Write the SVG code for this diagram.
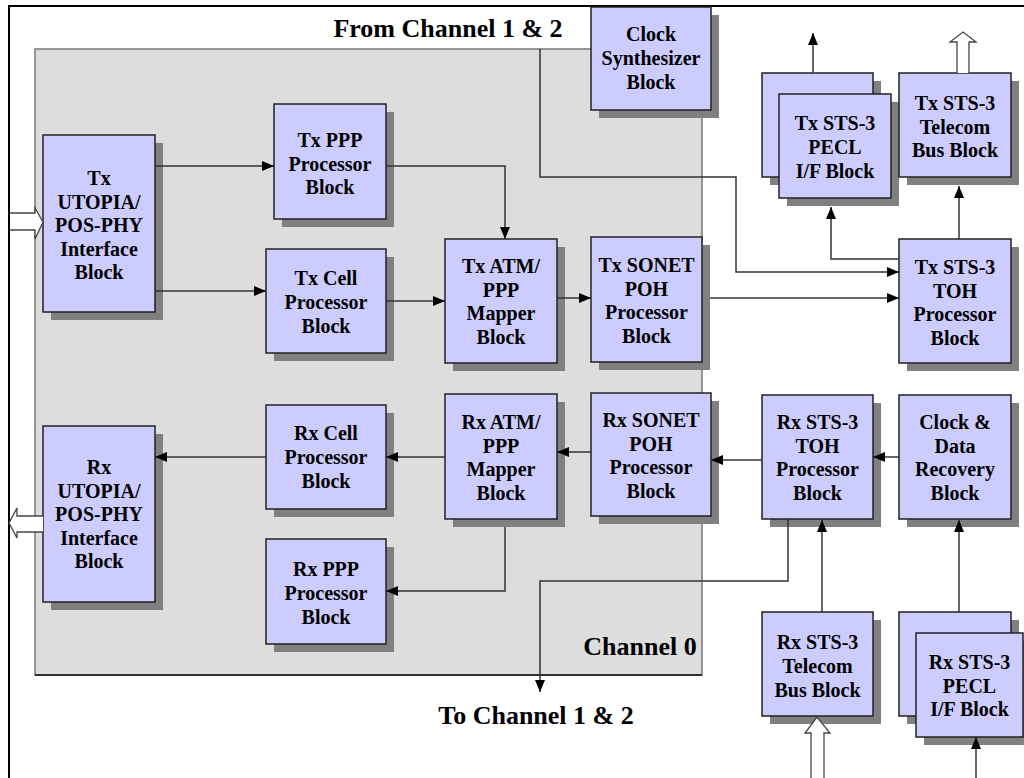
<svg xmlns="http://www.w3.org/2000/svg" width="1024" height="778" viewBox="0 0 1024 778">
<style>
.sh{fill:#808080}
.bx{fill:#ccccff;stroke:#222;stroke-width:1.5}
.t{font-family:"Liberation Serif","Times New Roman",serif;font-weight:bold;font-size:20px;text-anchor:middle;fill:#000}
.lb{font-family:"Liberation Serif","Times New Roman",serif;font-weight:bold;font-size:26px;text-anchor:middle;fill:#000}
.c{fill:none;stroke:#333;stroke-width:1.5}
.ha{fill:#fff;stroke:#444;stroke-width:1.3}
</style>
<defs>
<marker id="ah" viewBox="0 0 12 10" refX="12" refY="5" markerWidth="12" markerHeight="10" markerUnits="userSpaceOnUse" orient="auto"><path d="M0,0 L12,5 L0,10 z" fill="#000"/></marker>
</defs>
<rect x="0" y="0" width="1024" height="778" fill="#fff"/>
<rect x="9" y="6" width="1040" height="800" fill="none" stroke="#000" stroke-width="2"/>
<g id="channel0">
<rect x="35" y="49" width="667" height="626" fill="#dddddd" stroke="#777" stroke-width="1.5"/>
<line x1="35" y1="675" x2="702" y2="675" stroke="#111" stroke-width="1.5"/>
</g>
<g id="labels">
<text class="lb" x="448" y="37">From Channel 1 &amp; 2</text>
<text class="lb" x="640" y="655">Channel 0</text>
<text class="lb" x="536" y="724">To Channel 1 &amp; 2</text>
</g>
<g id="tx_utopia"><rect class="sh" x="51" y="143" width="112" height="177"/><rect class="bx" x="43" y="135" width="112" height="177"/>
<text class="t" x="99" y="185">Tx<tspan x="99" dy="23.5">UTOPIA/</tspan><tspan x="99" dy="23.5">POS-PHY</tspan><tspan x="99" dy="23.5">Interface</tspan><tspan x="99" dy="23.5">Block</tspan></text></g>
<g id="rx_utopia"><rect class="sh" x="51" y="434" width="112" height="176"/><rect class="bx" x="43" y="426" width="112" height="176"/>
<text class="t" x="99" y="474">Rx<tspan x="99" dy="23.5">UTOPIA/</tspan><tspan x="99" dy="23.5">POS-PHY</tspan><tspan x="99" dy="23.5">Interface</tspan><tspan x="99" dy="23.5">Block</tspan></text></g>
<g id="tx_ppp"><rect class="sh" x="282" y="112" width="112" height="115"/><rect class="bx" x="274" y="104" width="112" height="115"/>
<text class="t" x="330" y="147">Tx PPP<tspan x="330" dy="23.5">Processor</tspan><tspan x="330" dy="23.5">Block</tspan></text></g>
<g id="tx_cell"><rect class="sh" x="274" y="257" width="120" height="104"/><rect class="bx" x="266" y="249" width="120" height="104"/>
<text class="t" x="326" y="285">Tx Cell<tspan x="326" dy="24">Processor</tspan><tspan x="326" dy="24">Block</tspan></text></g>
<g id="rx_cell"><rect class="sh" x="274" y="413" width="120" height="104"/><rect class="bx" x="266" y="405" width="120" height="104"/>
<text class="t" x="326" y="440">Rx Cell<tspan x="326" dy="24">Processor</tspan><tspan x="326" dy="24">Block</tspan></text></g>
<g id="rx_ppp"><rect class="sh" x="274" y="547" width="120" height="105"/><rect class="bx" x="266" y="539" width="120" height="105"/>
<text class="t" x="326" y="576">Rx PPP<tspan x="326" dy="24">Processor</tspan><tspan x="326" dy="24">Block</tspan></text></g>
<g id="tx_atm"><rect class="sh" x="453" y="247" width="112" height="124"/><rect class="bx" x="445" y="239" width="112" height="124"/>
<text class="t" x="501" y="273">Tx ATM/<tspan x="501" dy="23.5">PPP</tspan><tspan x="501" dy="23.5">Mapper</tspan><tspan x="501" dy="23.5">Block</tspan></text></g>
<g id="rx_atm"><rect class="sh" x="453" y="402" width="112" height="125"/><rect class="bx" x="445" y="394" width="112" height="125"/>
<text class="t" x="501" y="429">Rx ATM/<tspan x="501" dy="23.5">PPP</tspan><tspan x="501" dy="23.5">Mapper</tspan><tspan x="501" dy="23.5">Block</tspan></text></g>
<g id="tx_sonet"><rect class="sh" x="599" y="245" width="111" height="125"/><rect class="bx" x="591" y="237" width="111" height="125"/>
<text class="t" x="646.5" y="272">Tx SONET<tspan x="646.5" dy="23.5">POH</tspan><tspan x="646.5" dy="23.5">Processor</tspan><tspan x="646.5" dy="23.5">Block</tspan></text></g>
<g id="rx_sonet"><rect class="sh" x="599" y="401" width="120" height="123"/><rect class="bx" x="591" y="393" width="120" height="123"/>
<text class="t" x="651" y="427">Rx SONET<tspan x="651" dy="23.5">POH</tspan><tspan x="651" dy="23.5">Processor</tspan><tspan x="651" dy="23.5">Block</tspan></text></g>
<g id="clock_synth"><rect class="sh" x="599" y="15" width="120" height="103"/><rect class="bx" x="591" y="7" width="120" height="103"/>
<text class="t" x="651" y="41">Clock<tspan x="651" dy="24">Synthesizer</tspan><tspan x="651" dy="24">Block</tspan></text></g>
<g id="tx_pecl"><rect class="sh" x="770" y="81" width="111" height="104"/><rect class="bx" x="762" y="73" width="111" height="104"/>
<rect class="sh" x="787" y="102" width="112" height="104"/><rect class="bx" x="779" y="94" width="112" height="104"/>
<text class="t" x="835" y="130">Tx STS-3<tspan x="835" dy="24">PECL</tspan><tspan x="835" dy="24">I/F Block</tspan></text></g>
<g id="tx_telecom"><rect class="sh" x="907" y="81" width="112" height="104"/><rect class="bx" x="899" y="73" width="112" height="104"/>
<text class="t" x="955" y="110">Tx STS-3<tspan x="955" dy="23.5">Telecom</tspan><tspan x="955" dy="23.5">Bus Block</tspan></text></g>
<g id="tx_toh"><rect class="sh" x="907" y="247" width="112" height="124"/><rect class="bx" x="899" y="239" width="112" height="124"/>
<text class="t" x="955" y="274">Tx STS-3<tspan x="955" dy="23.5">TOH</tspan><tspan x="955" dy="23.5">Processor</tspan><tspan x="955" dy="23.5">Block</tspan></text></g>
<g id="rx_toh"><rect class="sh" x="770" y="403" width="111" height="124"/><rect class="bx" x="762" y="395" width="111" height="124"/>
<text class="t" x="817.5" y="429">Rx STS-3<tspan x="817.5" dy="23.5">TOH</tspan><tspan x="817.5" dy="23.5">Processor</tspan><tspan x="817.5" dy="23.5">Block</tspan></text></g>
<g id="cdr"><rect class="sh" x="907" y="403" width="112" height="124"/><rect class="bx" x="899" y="395" width="112" height="124"/>
<text class="t" x="955" y="429">Clock &amp;<tspan x="955" dy="23.5">Data</tspan><tspan x="955" dy="23.5">Recovery</tspan><tspan x="955" dy="23.5">Block</tspan></text></g>
<g id="rx_telecom"><rect class="sh" x="770" y="620" width="111" height="104"/><rect class="bx" x="762" y="612" width="111" height="104"/>
<text class="t" x="817.5" y="649">Rx STS-3<tspan x="817.5" dy="24">Telecom</tspan><tspan x="817.5" dy="24">Bus Block</tspan></text></g>
<g id="rx_pecl"><rect class="sh" x="907" y="620" width="112" height="104"/><rect class="bx" x="899" y="612" width="112" height="104"/>
<rect class="sh" x="924" y="641" width="107" height="104"/><rect class="bx" x="916" y="633" width="107" height="104"/>
<text class="t" x="969.5" y="669">Rx STS-3<tspan x="969.5" dy="23.5">PECL</tspan><tspan x="969.5" dy="23.5">I/F Block</tspan></text></g>
<g id="connectors">
<path class="c" d="M155,166 H274" marker-end="url(#ah)"/>
<path class="c" d="M155,291 H266" marker-end="url(#ah)"/>
<path class="c" d="M386,166 H505 V239" marker-end="url(#ah)"/>
<path class="c" d="M386,301 H445" marker-end="url(#ah)"/>
<path class="c" d="M557,298 H591" marker-end="url(#ah)"/>
<path class="c" d="M710,298 H899" marker-end="url(#ah)"/>
<path class="c" d="M540,49 V177 H736 V272 H899" marker-end="url(#ah)"/>
<path class="c" d="M899,259 H831 V207" marker-end="url(#ah)"/>
<path class="c" d="M959,239 V186" marker-end="url(#ah)"/>
<path class="c" d="M813,73 V33" marker-end="url(#ah)"/>
<path class="c" d="M266,457 H155" marker-end="url(#ah)"/>
<path class="c" d="M445,457 H386" marker-end="url(#ah)"/>
<path class="c" d="M591,452 H557" marker-end="url(#ah)"/>
<path class="c" d="M762,460 H711" marker-end="url(#ah)"/>
<path class="c" d="M899,457 H873" marker-end="url(#ah)"/>
<path class="c" d="M788,519 V581 H540 V692" marker-end="url(#ah)"/>
<path class="c" d="M505,527 V591 H386" marker-end="url(#ah)"/>
<path class="c" d="M822,612 V520" marker-end="url(#ah)"/>
<path class="c" d="M959,612 V520" marker-end="url(#ah)"/>
<path class="c" d="M976,778 V737" marker-end="url(#ah)"/>
<path class="ha" d="M957,73 V42 H950 L963,32 L976,42 H969 V73"/>
<path class="ha" d="M10,213 H35 V208 L43,222 L35,239 V230 H10"/>
<path class="ha" d="M43,516 H17 V508 L9,523 L17,538 V532 H43"/>
<path class="ha" d="M811,780 V733 H805 L817,717 L830,733 H824 V780"/>
</g>
</svg>
